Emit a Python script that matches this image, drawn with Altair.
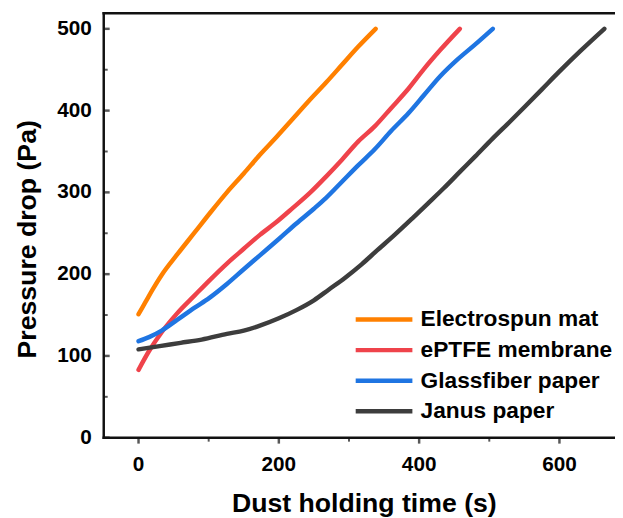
import altair as alt
import pandas as pd

FONT = "Liberation Sans"

series_names = ["Electrospun mat", "ePTFE membrane", "Glassfiber paper", "Janus paper"]
series_colors = ["#FF8000", "#EF434B", "#1F75E2", "#3D3D3D"]

electro_t = [0, 10, 20, 33, 56, 80, 103, 126, 150, 173, 197, 220, 243, 267, 290, 313, 338]
electro_p = [151, 166, 181, 199, 225, 251, 276, 300, 323, 346, 368, 390, 412, 434, 456, 478, 500]

eptfe_t = [0, 15, 33, 55, 80, 103, 126, 150, 173, 197, 220, 245, 267, 290, 313, 337, 360, 385, 407, 430, 458]
eptfe_p = [83, 106, 129, 152, 174, 194, 213, 231, 248, 264, 281, 300, 319, 340, 362, 381, 403, 427, 451, 474, 500]

glass_t = [0, 15, 33, 55, 80, 101, 126, 150, 173, 200, 225, 250, 267, 290, 313, 337, 360, 385, 407, 430, 454, 480, 505]
glass_p = [118, 123, 131, 144, 159, 171, 188, 206, 223, 243, 262, 280, 293, 313, 333, 353, 375, 397, 419, 442, 462, 481, 500]

janus_t = [0, 30, 60, 90, 126, 150, 173, 200, 225, 250, 271, 295, 318, 340, 365, 390, 412, 435, 458, 480, 505, 530, 552, 575, 599, 630, 664]
janus_p = [108, 112, 116, 120, 127, 131, 137, 146, 156, 168, 181, 196, 212, 229, 248, 268, 286, 305, 325, 344, 366, 387, 406, 426, 447, 473, 500]

x_major = [0, 200, 400, 600]
x_major_labels = ["0", "200", "400", "600"]
x_minor = [100, 300, 500]
y_major = [0, 100, 200, 300, 400, 500]
y_major_labels = ["0", "100", "200", "300", "400", "500"]
y_minor = [50, 150, 250, 350, 450]
x_title = "Dust holding time (s)"
y_title = "Pressure drop (Pa)"
x_domain = [-49.6, 679.2]
y_domain = [0, 519]

rows = []
for name, ts, ps in zip(series_names,
                        [electro_t, eptfe_t, glass_t, janus_t],
                        [electro_p, eptfe_p, glass_p, janus_p]):
    for i, (t, p) in enumerate(zip(ts, ps)):
        rows.append({"series": name, "t": t, "p": p, "order": i})
df = pd.DataFrame(rows)

frame_df = pd.DataFrame([
    {"edge": "left", "t": x_domain[0], "p": y_domain[0], "k": 0},
    {"edge": "left", "t": x_domain[0], "p": y_domain[1], "k": 1},
    {"edge": "bottom", "t": x_domain[0], "p": y_domain[0], "k": 0},
    {"edge": "bottom", "t": x_domain[1], "p": y_domain[0], "k": 1},
    {"edge": "top", "t": x_domain[0], "p": y_domain[1], "k": 0},
    {"edge": "top", "t": x_domain[1], "p": y_domain[1], "k": 1},
])
xmaj_df = pd.DataFrame({"t": x_major, "label": x_major_labels})
xmin_df = pd.DataFrame({"t": x_minor})
ymaj_df = pd.DataFrame({"p": y_major, "label": y_major_labels})
ymin_df = pd.DataFrame({"p": y_minor})
xtitle_df = pd.DataFrame({"text": [x_title]})
ytitle_df = pd.DataFrame({"text": [y_title]})

xs = alt.Scale(domain=x_domain, nice=False, zero=False)
ys = alt.Scale(domain=y_domain, nice=False, zero=False)

X = alt.X("t:Q", scale=xs, axis=None)
Y = alt.Y("p:Q", scale=ys, axis=None)

lines = alt.Chart(df).mark_line(strokeWidth=4.5, strokeCap="round", strokeJoin="round",
                                interpolate="monotone", clip=True).encode(
    x=X,
    y=Y,
    color=alt.Color("series:N", scale=alt.Scale(domain=series_names, range=series_colors),
                    legend=alt.Legend(title=None, orient="none", legendX=253, legendY=295,
                                      symbolType="stroke", symbolSize=3300, symbolStrokeWidth=4.5,
                                      clipHeight=30.5, rowPadding=0, padding=0, labelOffset=6,
                                      labelFont=FONT, labelFontSize=23, labelFontWeight="bold",
                                      labelColor="black", labelLimit=400)),
    order="order:Q",
)

frame = alt.Chart(frame_df).mark_line(color="#111111", strokeWidth=2.5, strokeCap="square").encode(
    x=X, y=Y, detail="edge:N", order="k:Q",
)

x_ticks_major = alt.Chart(xmaj_df).mark_tick(color="#111111", size=6, thickness=2.5, orient="vertical").encode(
    x=X, y=alt.value(433),
)
x_ticks_minor = alt.Chart(xmin_df).mark_tick(color="#111111", size=4, thickness=2, orient="vertical").encode(
    x=X, y=alt.value(432),
)
y_ticks_major = alt.Chart(ymaj_df).mark_tick(color="#111111", size=6, thickness=2.5, orient="horizontal").encode(
    y=Y, x=alt.value(3),
)
y_ticks_minor = alt.Chart(ymin_df).mark_tick(color="#111111", size=4, thickness=2, orient="horizontal").encode(
    y=Y, x=alt.value(2),
)

x_labels = alt.Chart(xmaj_df).mark_text(font=FONT, fontSize=21, fontWeight="bold", color="black",
                                        align="center", baseline="top").encode(
    x=X, y=alt.value(447), text="label:N",
)
y_labels = alt.Chart(ymaj_df).mark_text(font=FONT, fontSize=21, fontWeight="bold", color="black",
                                        align="right", baseline="middle").encode(
    y=Y, x=alt.value(-12), text="label:N",
)
x_title_mark = alt.Chart(xtitle_df).mark_text(font=FONT, fontSize=27, fontWeight="bold", color="black",
                                              align="center", baseline="top").encode(
    x=alt.value(264), y=alt.value(484), text="text:N",
)
y_title_mark = alt.Chart(ytitle_df).mark_text(font=FONT, fontSize=27, fontWeight="bold", color="black",
                                              align="center", baseline="middle", angle=270).encode(
    x=alt.value(-77), y=alt.value(229), text="text:N",
)

chart = alt.layer(x_labels, y_labels, x_title_mark, y_title_mark, lines,
                  frame, x_ticks_major, x_ticks_minor, y_ticks_major, y_ticks_minor).properties(
    width=518, height=430,
    autosize=alt.AutoSizeParams(type="none"),
    padding={"left": 97, "top": 2, "right": 0, "bottom": 78},
).configure_view(stroke=None)

chart.save("out.html", embed_options={"renderer": "svg", "actions": False})
